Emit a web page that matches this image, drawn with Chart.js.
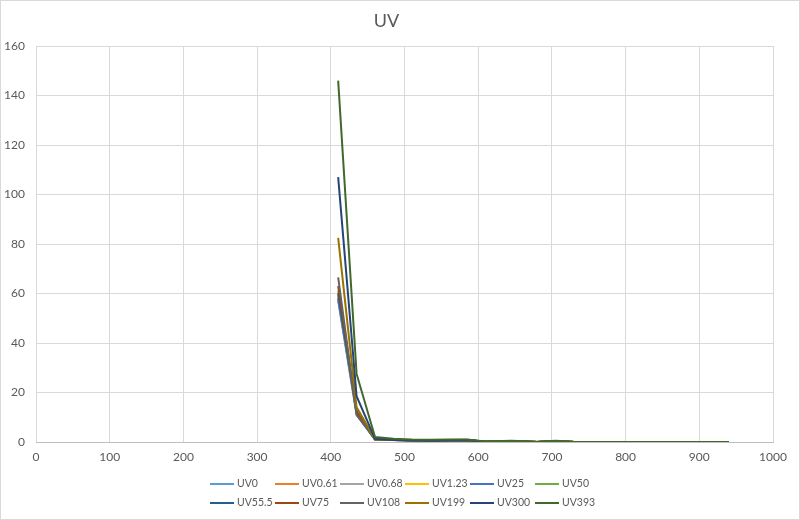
<!DOCTYPE html>
<html>
<head>
<meta charset="utf-8">
<script src="https://cdn.jsdelivr.net/npm/chart.js@4.4.1/dist/chart.umd.min.js"></script>
<style>
html,body{margin:0;padding:0;background:#fff;}
#wrap{width:800px;height:520px;position:relative;}
</style>
</head>
<body>
<div id="wrap"><canvas id="c" width="800" height="520"></canvas></div>
<script>
// Wavelengths (nm)
const wavelengths = [410,435,460,485,510,535,560,585,610,645,680,705,730,760,810,860,900,940];

const seriesNames = ['UV0','UV0.61','UV0.68','UV1.23','UV25','UV50','UV55.5','UV75','UV108','UV199','UV300','UV393'];

const uv0    = [57, 11.0, 1.0, 0.8, 0.6, 0.5, 0.6, 0.7, 0.1, 0.3, 0.05, 0.3, 0.05, 0.03, 0.03, 0.03, 0.03, 0.03];
const uv061  = [58, 11.5, 1.0, 0.8, 0.6, 0.5, 0.6, 0.7, 0.1, 0.3, 0.05, 0.3, 0.05, 0.03, 0.03, 0.03, 0.03, 0.03];
const uv068  = [59, 11.8, 1.0, 0.8, 0.6, 0.5, 0.6, 0.7, 0.1, 0.3, 0.05, 0.3, 0.05, 0.03, 0.03, 0.03, 0.03, 0.03];
const uv123  = [60, 12.2, 1.1, 0.8, 0.6, 0.5, 0.6, 0.7, 0.1, 0.3, 0.05, 0.3, 0.05, 0.03, 0.03, 0.03, 0.03, 0.03];
const uv25   = [58, 11.8, 1.0, 0.8, 0.6, 0.5, 0.6, 0.7, 0.1, 0.3, 0.05, 0.3, 0.05, 0.03, 0.03, 0.03, 0.03, 0.03];
const uv50   = [61, 12.5, 1.1, 0.9, 0.7, 0.6, 0.7, 0.8, 0.1, 0.3, 0.05, 0.3, 0.05, 0.03, 0.03, 0.03, 0.03, 0.03];
const uv555  = [60, 12.3, 1.1, 0.9, 0.7, 0.6, 0.7, 0.8, 0.1, 0.3, 0.05, 0.3, 0.05, 0.03, 0.03, 0.03, 0.03, 0.03];
const uv75   = [63, 12.0, 1.1, 0.9, 0.7, 0.6, 0.7, 0.8, 0.1, 0.3, 0.05, 0.3, 0.05, 0.03, 0.03, 0.03, 0.03, 0.03];
const uv108  = [66.5, 11.0, 1.1, 0.9, 0.7, 0.6, 0.7, 0.8, 0.1, 0.3, 0.05, 0.3, 0.05, 0.03, 0.03, 0.03, 0.03, 0.03];
const uv199  = [82.5, 14.0, 1.2, 0.9, 0.7, 0.6, 0.8, 0.9, 0.1, 0.4, 0.05, 0.3, 0.05, 0.03, 0.03, 0.03, 0.03, 0.03];
const uv300  = [107, 18.5, 1.3, 0.8, 0.6, 0.5, 0.6, 0.7, 0.1, 0.3, 0.05, 0.3, 0.05, 0.03, 0.03, 0.03, 0.03, 0.03];
const uv393  = [146, 27.5, 2.0, 1.3, 1.0, 0.9, 1.0, 1.0, 0.2, 0.5, 0.1, 0.5, 0.1, 0.05, 0.05, 0.05, 0.05, 0.05];

const seriesValues = [uv0, uv061, uv068, uv123, uv25, uv50, uv555, uv75, uv108, uv199, uv300, uv393];
const seriesColors = ['#5B9BD5','#ED7D31','#A5A5A5','#FFC000','#4472C4','#70AD47','#255E91','#9E480E','#636363','#997300','#264478','#43682B'];

const xTicks = [0,100,200,300,400,500,600,700,800,900,1000];
const yTicks = [0,20,40,60,80,100,120,140,160];

Chart.defaults.font.family = 'Lato, "Liberation Sans", sans-serif';
Chart.defaults.color = '#595959';

const datasets = seriesNames.map((name, i) => ({
  label: name,
  data: wavelengths.map((w, j) => ({x: w, y: seriesValues[i][j]})),
  borderColor: seriesColors[i],
  backgroundColor: seriesColors[i],
  borderWidth: 2,
  pointRadius: 0,
  tension: 0,
  fill: false,
  order: seriesNames.length - 1 - i
}));

const gridLegend = {
  id: 'gridLegend',
  afterDraw(chart) {
    const ctx = chart.ctx;
    ctx.save();
    ctx.font = '10.5px Lato, "Liberation Sans", sans-serif';
    ctx.textBaseline = 'middle';
    ctx.textAlign = 'left';
    chart.data.datasets.forEach((ds, i) => {
      const col = i % 6, row = Math.floor(i / 6);
      const x = 210 + col * 65;
      const y = 484 + row * 19;
      ctx.strokeStyle = ds.borderColor;
      ctx.lineWidth = 2;
      ctx.beginPath();
      ctx.moveTo(x, y);
      ctx.lineTo(x + 24, y);
      ctx.stroke();
      ctx.fillStyle = '#595959';
      ctx.fillText(ds.label, x + 27, y);
    });
    ctx.strokeStyle = '#D9D9D9';
    ctx.lineWidth = 1;
    ctx.strokeRect(0.5, 0.5, chart.width - 1, chart.height - 1);
    ctx.restore();
  }
};

new Chart(document.getElementById('c'), {
  type: 'line',
  data: { datasets },
  plugins: [gridLegend],
  options: {
    responsive: false,
    animation: false,
    layout: { padding: { left: 0, right: 27, top: 0, bottom: 0 } },
    plugins: {
      legend: { display: false },
      tooltip: { enabled: false },
      title: {
        display: true,
        text: 'UV',
        color: '#595959',
        font: { size: 18, weight: 'normal' },
        padding: { top: 10, bottom: 14.4 }
      }
    },
    scales: {
      x: {
        type: 'linear',
        min: 0, max: 1000,
        afterBuildTicks(scale) { scale.ticks = xTicks.map(v => ({value: v})); },
        afterFit(scale) { scale.height = 78; },
        grid: { color: '#D9D9D9', drawTicks: false },
        border: { color: '#BFBFBF' },
        ticks: { padding: 8, font: { size: 12 }, color: '#595959', callback: v => String(v) }
      },
      y: {
        min: 0, max: 160,
        afterBuildTicks(scale) { scale.ticks = yTicks.map(v => ({value: v})); },
        afterFit(scale) { scale.width = 36; },
        grid: { color: '#D9D9D9', drawTicks: false },
        border: { display: false },
        ticks: { padding: 11, font: { size: 12 }, color: '#595959', callback: v => String(v) }
      }
    }
  }
});
</script>
</body>
</html>
